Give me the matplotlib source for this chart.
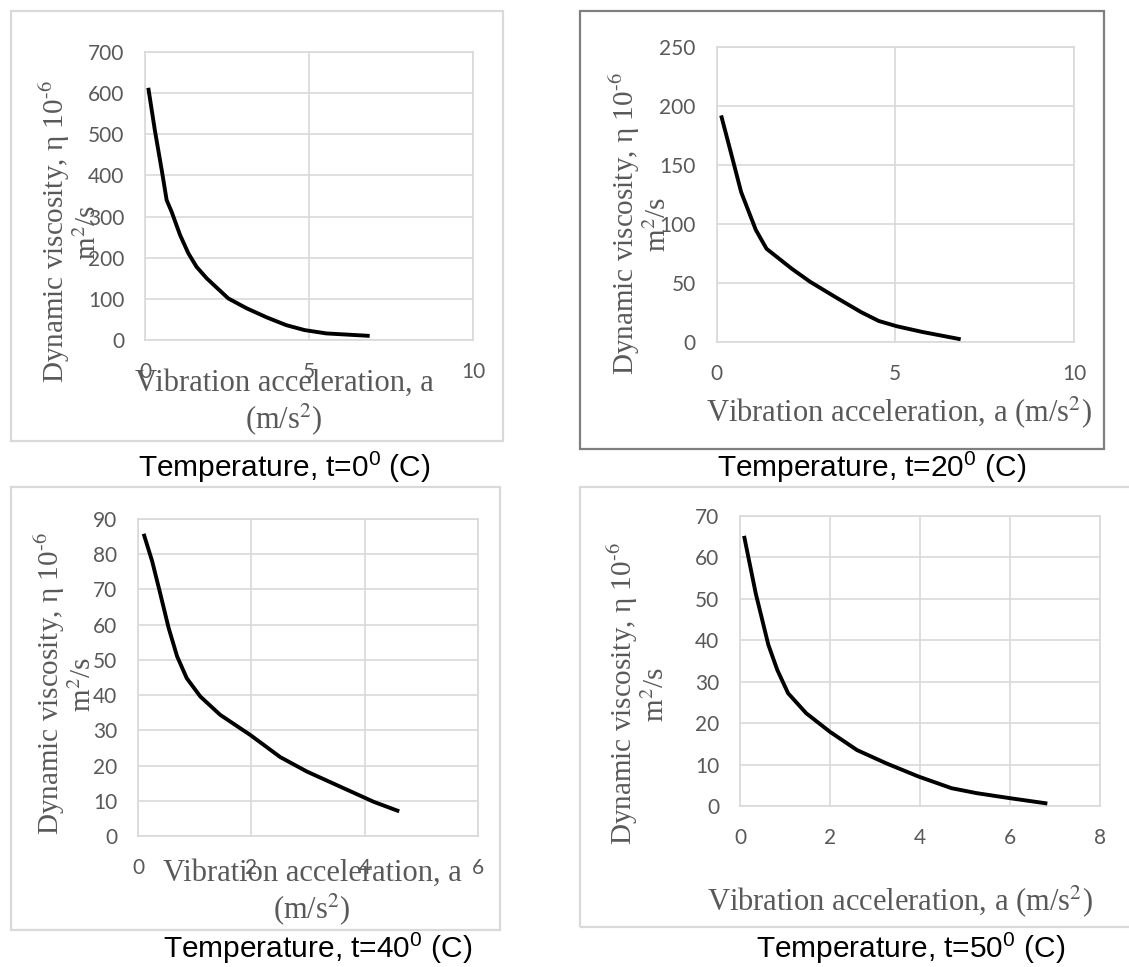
import matplotlib
matplotlib.use("Agg")
import matplotlib.pyplot as plt
from matplotlib.patches import Rectangle

# ---------------- data ----------------
accel_t0 = [0.10, 0.30, 0.51, 0.66, 0.81, 1.07, 1.32, 1.57, 1.88, 2.54, 3.10, 3.71, 4.31, 4.87, 5.53, 6.85]
visc_t0 = [613, 510, 413, 340, 312, 255, 211, 178, 150, 101, 77, 55, 36, 24, 16, 10]

accel_t20 = [0.13, 0.39, 0.69, 1.10, 1.40, 2.11, 2.62, 3.33, 4.04, 4.54, 5.05, 5.76, 6.83]
visc_t20 = [192, 162, 127, 95, 79, 62, 51, 38, 25.4, 17.8, 13.3, 8.5, 2.3]

accel_t40 = [0.10, 0.25, 0.39, 0.54, 0.69, 0.86, 1.10, 1.45, 1.98, 2.51, 2.98, 3.57, 4.16, 4.61]
visc_t40 = [85.8, 78, 69, 59.1, 51.0, 44.8, 39.6, 34.4, 28.7, 22.4, 18.3, 14.0, 9.7, 7.0]

accel_t50 = [0.09, 0.35, 0.63, 0.83, 1.07, 1.47, 2.00, 2.60, 3.25, 3.97, 4.70, 5.26, 5.99, 6.83]
visc_t50 = [65.2, 51.3, 38.9, 32.8, 27.2, 22.4, 17.9, 13.5, 10.3, 7.1, 4.3, 3.1, 1.9, 0.6]

titles = ["Temperature, t=0$^0$ (C)", "Temperature, t=20$^0$ (C)",
          "Temperature, t=40$^0$ (C)", "Temperature, t=50$^0$ (C)"]
ylabel_text = "Dynamic viscosity, \u03b7 10$^{\u2010 6}$\nm$^2$/s"
xlabel_wrapped = "Vibration acceleration, a\n(m/s$^2$)"
xlabel_single = "Vibration acceleration, a (m/s$^2$)"

x_ticks = [[0, 5, 10], [0, 5, 10], [0, 2, 4, 6], [0, 2, 4, 6, 8]]
y_ticks = [list(range(0, 701, 100)), list(range(0, 251, 50)),
           list(range(0, 91, 10)), list(range(0, 71, 10))]

# ---------------- figure ----------------
W, H = 1129, 967
plt.rcParams['mathtext.fontset'] = 'custom'
plt.rcParams['mathtext.rm'] = 'Liberation Sans'
plt.rcParams['mathtext.it'] = 'Liberation Sans:italic'

fig = plt.figure(figsize=(W / 100, H / 100), dpi=100)
fig.patch.set_facecolor('white')

GRID = '#d9d9d9'
TXT = '#595959'
SERIF = ['Liberation Serif', 'DejaVu Serif']
SANS = ['Liberation Sans', 'DejaVu Sans']


def rect(x0, y0, x1, y1):
    return [x0 / W, 1 - y1 / H, (x1 - x0) / W, (y1 - y0) / H]


# chart boxes
boxes = [((11, 11, 503, 441), GRID), ((580, 11, 1104, 449), '#7f7f7f'),
         ((11, 487, 500, 930), GRID), ((580, 487, 1140, 927), GRID)]
for (x0, y0, x1, y1), c in boxes:
    fig.patches.append(Rectangle((x0 / W, 1 - y1 / H), (x1 - x0) / W, (y1 - y0) / H,
                                 transform=fig.transFigure, fill=False,
                                 edgecolor=c, linewidth=1.6, clip_on=False))

axes_px = [(145, 52, 473, 340), (716.5, 47, 1074, 342),
           (138, 519, 478, 836), (740, 516, 1100, 806)]
series = [(accel_t0, visc_t0), (accel_t20, visc_t20),
          (accel_t40, visc_t40), (accel_t50, visc_t50)]

for i, (pos, (xs, ys)) in enumerate(zip(axes_px, series)):
    ax = fig.add_axes(rect(*pos))
    ax.plot(xs, ys, color='black', lw=2.8, solid_joinstyle='round',
            solid_capstyle='butt', zorder=3)
    ax.set_xlim(x_ticks[i][0], x_ticks[i][-1])
    ax.set_ylim(y_ticks[i][0], y_ticks[i][-1])
    ax.set_xticks(x_ticks[i])
    ax.set_yticks(y_ticks[i])
    ax.grid(True, color=GRID, lw=1.2)
    ax.set_axisbelow(True)
    for s in ax.spines.values():
        s.set_color(GRID)
        s.set_linewidth(1.2)
    ax.tick_params(length=0, labelsize=15, labelcolor=TXT)
    ax.tick_params(axis='x', pad=16)
    ax.tick_params(axis='y', pad=15)
    for lab in ax.get_xticklabels() + ax.get_yticklabels():
        lab.set_fontfamily('Lato')

# y labels (two lines, rotated)
ylab_pos = [(70, 232), (640, 224), (65, 684), (638, 694)]
for (x, y) in ylab_pos:
    fig.text(x / W, 1 - y / H, ylabel_text, rotation=90, ha='center', va='center',
             multialignment='center', fontsize=21, color=TXT,
             family=SERIF, math_fontfamily='stix', linespacing=1.1)

# x labels
xlab = [(284, 403, xlabel_wrapped), (899, 412, xlabel_single),
        (312, 893, xlabel_wrapped), (900, 901, xlabel_single)]
for (x, y, t) in xlab:
    fig.text(x / W, 1 - y / H, t, ha='center', va='center', multialignment='center',
             fontsize=22, color=TXT, family=SERIF, math_fontfamily='stix',
             linespacing=1.1)

# titles
title_pos = [(284, 467), (872, 467), (318, 948), (911, 948)]
for (x, y), t in zip(title_pos, titles):
    fig.text(x / W, 1 - y / H, t, ha='center', va='center', fontsize=21.5,
             color='black', family=SANS)

fig.savefig('out.png', dpi=100)
